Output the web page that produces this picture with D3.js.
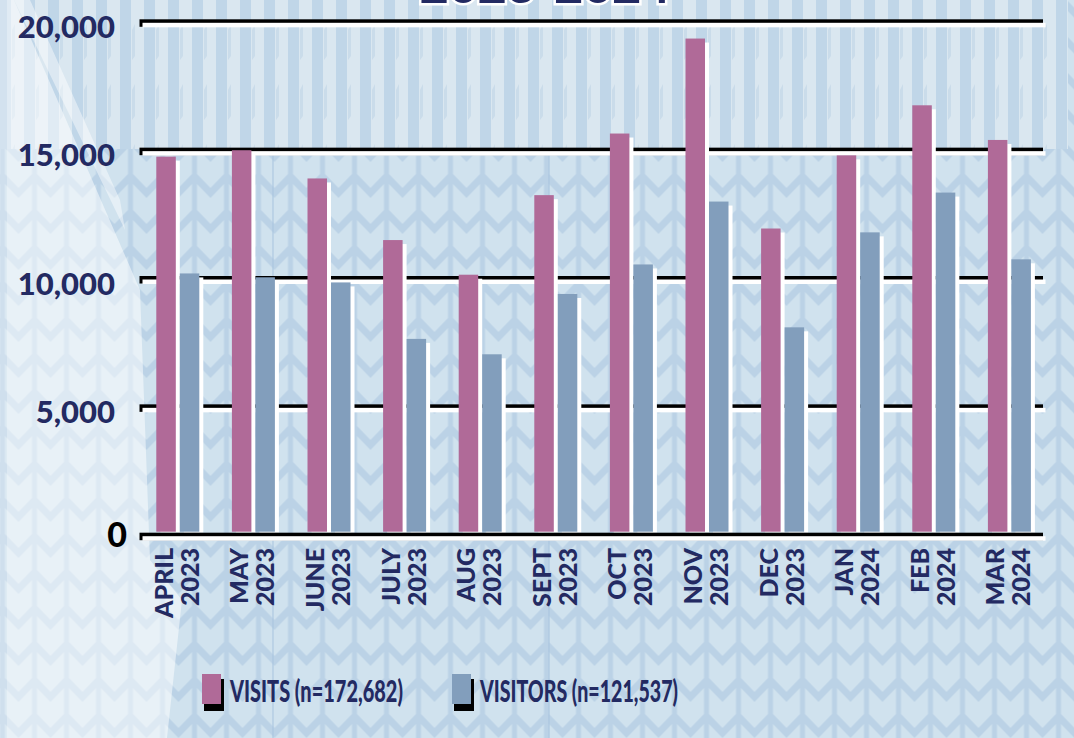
<!DOCTYPE html>
<html>
<head>
<meta charset="utf-8">
<script src="https://cdn.jsdelivr.net/npm/d3@7"></script>
<style>
html,body{margin:0;padding:0;background:#bcd3e6;overflow:hidden}
svg{display:block}
</style>
</head>
<body>
<svg id="chart" width="1074" height="738"></svg>
<script>
// ---------- data ----------
const months = ["APRIL","MAY","JUNE","JULY","AUG","SEPT","OCT","NOV","DEC","JAN","FEB","MAR"];
const years  = ["2023","2023","2023","2023","2023","2023","2023","2023","2023","2024","2024","2024"];
const visits   = [14650,14900,13800,11400,10050,13150,15550,19250,11850,14700,16650,15300];
const visitors = [10100, 9950, 9750, 7550, 6950, 9300,10450,12900, 8000,11700,13250,10650];
const yTicks = [0,5000,10000,15000,20000];
const seriesKeys = ["visits","visitors"];
const seriesLabels = ["VISITS (n=172,682)","VISITORS (n=121,537)"];
const titleText = "2023-2024";

// ---------- style ----------
const NAVY = "#232a62", PINK = "#b06a98", BLUE = "#829ebc";
const FONT = "Lato, 'Open Sans', sans-serif";

const svg = d3.select("#chart");
const W = 1074, H = 738;
const defs = svg.append("defs");

// herringbone pattern
const pat = defs.append("pattern").attr("id","chev").attr("patternUnits","userSpaceOnUse")
  .attr("x",2.5).attr("y",4).attr("width",32).attr("height",36);
pat.append("rect").attr("width",32).attr("height",36).attr("fill","#bbd2e6");
[-1,0,1].forEach(k=>{
  const o=k*36;
  pat.append("polygon").attr("fill","#d0e2ee")
    .attr("points",[[2.5,0+o],[16,14+o],[29.5,0+o],[29.5,26+o],[16,40+o],[2.5,26+o]].map(p=>p.join(",")).join(" "));
});
// vertical stripe pattern
const sp = defs.append("pattern").attr("id","stripes").attr("patternUnits","userSpaceOnUse")
  .attr("width",24).attr("height",60);
sp.append("rect").attr("width",24).attr("height",60).attr("fill","#c0d6e8");
sp.append("rect").attr("x",11).attr("width",13).attr("height",60).attr("fill","#dae7f0");
sp.append("polygon").attr("points","12,30 15,24 15,56 12,60").attr("fill","#cadcea");

// ---------- background ----------
const bg = svg.append("g");
bg.append("rect").attr("width",W).attr("height",H).attr("fill","url(#chev)");
bg.append("rect").attr("x",0).attr("y",0).attr("width",1068).attr("height",149).attr("fill","url(#stripes)");
bg.append("polygon").attr("points","7,0 14,0 140,290 150,560 182,600 167,738 7,738")
  .attr("fill","#ffffff").attr("opacity",0.5);
bg.append("polygon").attr("points","0,0 7,0 7,738 0,738").attr("fill","#ffffff").attr("opacity",0.3);
bg.append("polygon").attr("points","14,0 30,0 120,200 125,230")
  .attr("fill","#ffffff").attr("opacity",0.45);
[273,549].forEach(x=>bg.append("line").attr("x1",x).attr("x2",x).attr("y1",155).attr("y2",H)
  .attr("stroke","#a7c3de").attr("stroke-width",1));

// title (cut off at the top edge, as in the source)
svg.append("text").attr("x",545).attr("y",3).attr("text-anchor","middle")
  .attr("font-family",FONT).attr("font-weight",900).attr("font-size",50)
  .attr("fill",NAVY).attr("stroke","#ffffff").attr("stroke-width",5).attr("paint-order","stroke")
  .text(titleText);

// ---------- scales ----------
const y = d3.scaleLinear().domain([0,20000]).range([532.7,19.3]);
const x0 = d3.scaleBand().domain(months).range([140,1047.2]).paddingInner(0).paddingOuter(0);
const x1 = d3.scaleBand().domain(seriesKeys).range([-21.5,21.5]).paddingInner(0.17);
const color = d3.scaleOrdinal().domain(seriesKeys).range([PINK,BLUE]);
const center = m => x0(m) + x0.bandwidth()/2;

// ---------- gridlines ----------
const grid = svg.append("g");
yTicks.filter(v=>v>0).forEach(v=>{
  grid.append("rect").attr("x",139.5).attr("y",y(v)).attr("width",903.5).attr("height",7.5).attr("fill","#000");
  grid.append("rect").attr("x",142.5).attr("y",y(v)+3.5).attr("width",903).attr("height",4.5).attr("fill","#fff");
});

// ---------- bars ----------
const rows = months.map((m,i)=>({m, visits:visits[i], visitors:visitors[i]}));
const groups = svg.append("g").selectAll("g").data(rows).join("g")
  .attr("transform",d=>`translate(${center(d.m)},0)`);
const cells = d => seriesKeys.map(k=>({k, v:d[k]}));
groups.selectAll("rect.sh").data(cells).join("rect").attr("class","sh")
  .attr("x",d=>x1(d.k)+4).attr("y",d=>y(d.v)+4)
  .attr("width",x1.bandwidth()).attr("height",d=>y(0)-y(d.v)-4).attr("fill","#fff");
groups.selectAll("rect.bar").data(cells).join("rect").attr("class","bar")
  .attr("x",d=>x1(d.k)).attr("y",d=>y(d.v))
  .attr("width",x1.bandwidth()).attr("height",d=>y(0)-y(d.v)-1).attr("fill",d=>color(d.k));

// zero line on top
svg.append("rect").attr("x",139.5).attr("y",y(0)).attr("width",903.5).attr("height",7.5).attr("fill","#000");
svg.append("rect").attr("x",142.5).attr("y",y(0)+3.5).attr("width",903).attr("height",4.5).attr("fill","#fff");

// ---------- y axis ----------
const yAxis = svg.append("g").attr("transform","translate(115,0)")
  .call(d3.axisLeft(y).tickValues(yTicks).tickSize(0).tickPadding(0).tickFormat(d3.format(",")));
yAxis.select(".domain").remove();
yAxis.selectAll("text")
  .attr("font-family",FONT).attr("font-weight",900).attr("font-size",31)
  .attr("fill",NAVY).attr("dy",null).attr("y",18).attr("x",0);
yAxis.selectAll(".tick").filter(d=>d===0).select("text")
  .attr("fill","#000").attr("font-size",34).attr("x",12).attr("y",14).attr("font-weight",900);

// ---------- x labels ----------
const xl = svg.append("g").selectAll("g").data(months).join("g")
  .attr("transform",m=>`translate(${center(m)},548) rotate(-90)`);
xl.append("text").attr("text-anchor","end").attr("x",0).attr("y",-5)
  .attr("font-family",FONT).attr("font-weight",900).attr("font-size",25).attr("fill",NAVY)
  .text(m=>m);
xl.append("text").attr("text-anchor","end").attr("x",0).attr("y",21)
  .attr("font-family",FONT).attr("font-weight",900).attr("font-size",25).attr("fill",NAVY)
  .text((m,i)=>years[i]);

// ---------- legend ----------
const legX = [202,452], legLen = [173,198];
const leg = svg.append("g").selectAll("g").data(seriesKeys).join("g")
  .attr("transform",(k,i)=>`translate(${legX[i]},674)`);
leg.append("rect").attr("x",2).attr("y",5).attr("width",20).attr("height",32).attr("fill","#000");
leg.append("rect").attr("x",0).attr("y",0).attr("width",19).attr("height",30).attr("fill",k=>color(k));
leg.each(function(k,i){
  const t = d3.select(this).append("text").attr("x",0).attr("y",0)
    .attr("font-family",FONT).attr("font-weight",900).attr("font-size",30).attr("fill",NAVY)
    .text(seriesLabels[i]);
  const natural = t.node().getComputedTextLength();
  t.attr("transform",`translate(28,27.5) scale(${legLen[i]/natural},1)`);
});
</script>
</body>
</html>
